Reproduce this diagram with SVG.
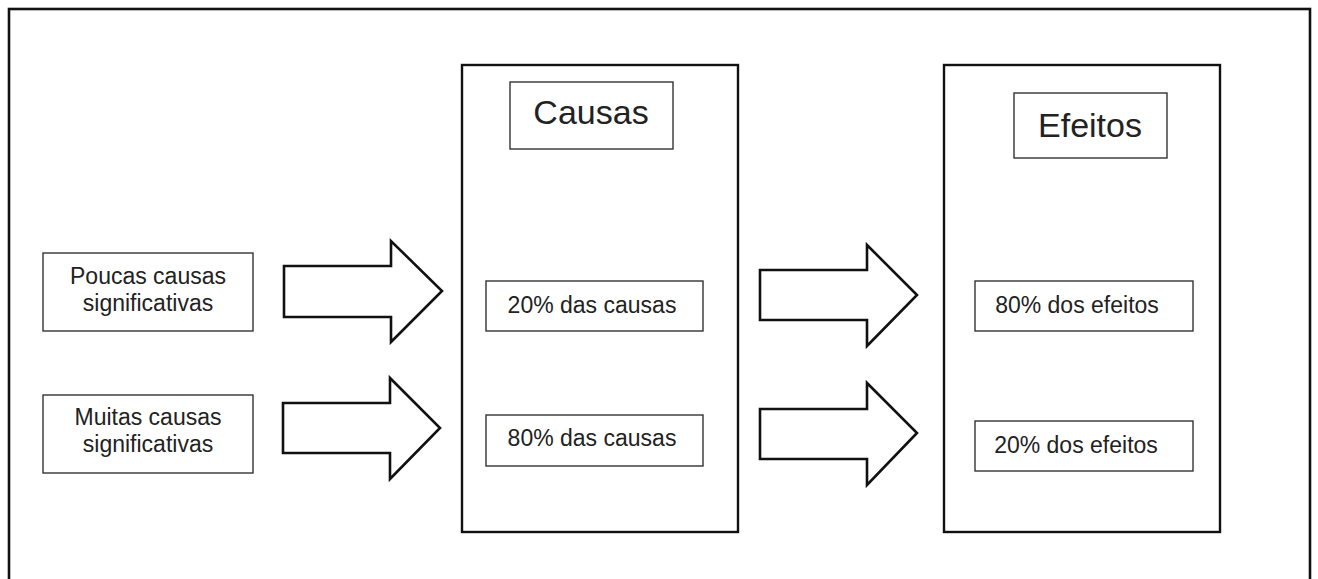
<svg xmlns="http://www.w3.org/2000/svg" width="1318" height="579" viewBox="0 0 1318 579">
<style>
.frame{fill:none;stroke:#111;stroke-width:2.6}
.big{fill:#fff;stroke:#111;stroke-width:2.4}
.box{fill:#fff;stroke:#333;stroke-width:1.4}
.arrow{fill:#fff;stroke:#111;stroke-width:2.6;stroke-linejoin:miter}
text{font-family:"Liberation Sans",Arial,sans-serif;fill:#222;text-anchor:middle}
.t{font-size:23px}
.h{font-size:34px}
</style>
<rect width="1318" height="579" fill="#fff"/>
<rect class="frame" x="9" y="9" width="1301" height="580"/>
<g id="causas">
<rect class="big" x="462" y="65" width="276" height="467"/>
</g>
<g id="efeitos">
<rect class="big" x="944" y="65" width="276" height="467"/>
</g>
<g id="causas-title">
<rect class="box" x="510" y="82" width="163" height="67"/>
<text class="h" x="591" y="124">Causas</text>
</g>
<g id="efeitos-title">
<rect class="box" x="1014" y="93" width="153" height="65"/>
<text class="h" x="1090" y="137">Efeitos</text>
</g>
<g id="poucas">
<rect class="box" x="43" y="253" width="210" height="78"/>
<text class="t" x="148" y="284">Poucas causas</text>
<text class="t" x="148" y="311">significativas</text>
</g>
<g id="muitas">
<rect class="box" x="43" y="395" width="210" height="78"/>
<text class="t" x="148" y="425">Muitas causas</text>
<text class="t" x="148" y="452">significativas</text>
</g>
<g id="c20">
<rect class="box" x="486" y="281" width="217" height="50"/>
<text class="t" x="592" y="313">20% das causas</text>
</g>
<g id="c80">
<rect class="box" x="486" y="415" width="217" height="51"/>
<text class="t" x="592" y="446">80% das causas</text>
</g>
<g id="e80">
<rect class="box" x="975" y="281" width="218" height="50"/>
<text class="t" x="1077" y="313">80% dos efeitos</text>
</g>
<g id="e20">
<rect class="box" x="975" y="421" width="218" height="50"/>
<text class="t" x="1076" y="453">20% dos efeitos</text>
</g>
<g id="connectors">
<polygon class="arrow" points="284,266 391,266 391,241 442,291 391,342 391,317 284,317"/>
<polygon class="arrow" points="283,403 390,403 390,378 440,428 390,479 390,453 283,453"/>
<polygon class="arrow" points="760,270 867,270 867,245 917,295 867,346 867,320 760,320"/>
<polygon class="arrow" points="760,409 867,409 867,383 917,433 867,485 867,459 760,459"/>
</g>
</svg>
